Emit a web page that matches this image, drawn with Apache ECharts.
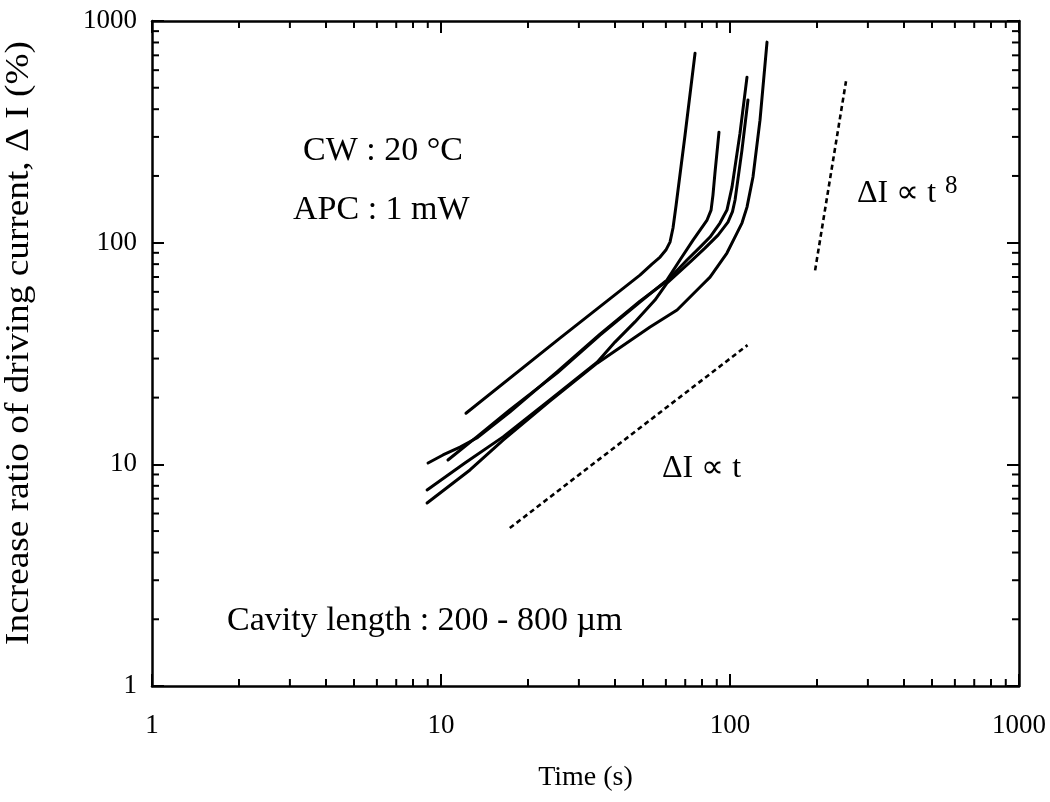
<!DOCTYPE html>
<html>
<head>
<meta charset="utf-8">
<script src="https://cdn.jsdelivr.net/npm/echarts@6/dist/echarts.min.js"></script>
<style>
html,body{margin:0;padding:0;background:#fff;}
#chart{width:1050px;height:802px;}
</style>
</head>
<body>
<div id="chart"></div>
<script>
// ---- data (time in s, increase ratio in %) ----
const xTickLabels = ['1', '10', '100', '1000'];
const yTickLabels = ['1', '10', '100', '1000'];
const minorTicks = [2, 3, 4, 5, 6, 7, 8, 9, 20, 30, 40, 50, 60, 70, 80, 90, 200, 300, 400, 500, 600, 700, 800, 900];
const xTitle = 'Time (s)';
const yTitle = 'Increase ratio of driving current, \u0394 I (%)';

const curveA = [[12.2, 17.0], [25.8, 37.1], [48.8, 71.4], [53.7, 80.1], [57.3, 86.1], [60.0, 92.6], [62.0, 100.6], [63.5, 116.4], [65.1, 147.8], [69.9, 306], [75.7, 716]];
const curveB = [[10.57, 10.46], [11.9, 11.85], [13.3, 13.3], [17.3, 17.6], [25.2, 25.8], [35.5, 38.3], [48.8, 54.0], [60.5, 67.8], [67.1, 83.5], [74.5, 102.7], [83.3, 126.5], [86.0, 140.3], [87.3, 163.9], [88.7, 206], [91.6, 315]];
const curveC = [[9.02, 10.14], [10.16, 11.02], [11.64, 11.97], [13.3, 13.14], [17.3, 17.2], [25.2, 26.1], [35.5, 38.7], [48.8, 54.5], [60.5, 67.1], [71.0, 83.5], [78.8, 95.5], [85.3, 106], [92.3, 122.6], [97.6, 140.3], [101.6, 178], [108.3, 312], [114.5, 558]];
const curveD = [[8.95, 7.66], [12.1, 10.14], [16.4, 13.3], [23.8, 19.5], [34.7, 28.9], [40.0, 35.6], [46.9, 43.9], [55.0, 55.1], [60.5, 65.7], [72.7, 81.7], [81.9, 94.5], [90.9, 108.2], [98.4, 123.9], [102.0, 138], [104.1, 155.7], [110.0, 261.6], [115.4, 440]];
const curveE = [[8.95, 6.69], [12.6, 9.43], [16.4, 12.87], [23.8, 19.3], [34.7, 28.6], [52.9, 41.6], [65.6, 49.7], [78.8, 63.1], [85.3, 69.9], [97.6, 89.8], [105.7, 110.5], [110.0, 122.6], [114.5, 144.7], [120.1, 197.7], [127.0, 357], [134.3, 803]];
const guideLinear = [[17.3, 5.16], [115, 34.5]];   // ΔI ∝ t
const guideEighth = [[197, 75], [252, 535]];       // ΔI ∝ t^8

const X_MIN = 1, X_MAX = 1000, Y_MIN = 1, Y_MAX = 1000;

const FONT = '"Liberation Serif", "Times New Roman", serif';
const chart = echarts.init(document.getElementById('chart'), null, {renderer: 'canvas'});

const axisLineStyle = {color: '#000', width: 2.5};
const tickStyle = {color: '#000', width: 2};

function solid(data) {
  return {
    type: 'line', data: data, xAxisIndex: 0, yAxisIndex: 0,
    showSymbol: false, symbol: 'none', smooth: false,
    lineStyle: {color: '#000', width: 3, join: 'round', cap: 'round'}, silent: true, z: 5
  };
}
function dotted(data) {
  return {
    type: 'line', data: data, xAxisIndex: 0, yAxisIndex: 0,
    showSymbol: false, symbol: 'none',
    lineStyle: {color: '#000', width: 2.6, type: [5, 3.5]}, silent: true, z: 5
  };
}

const MINOR_LEN = 7;
function xMinorRender(params, api) {
  const v = api.value(0);
  const b = api.coord([v, Y_MIN]);
  const t = api.coord([v, Y_MAX]);
  return {type: 'group', children: [
    {type: 'line', shape: {x1: b[0], y1: b[1], x2: b[0], y2: b[1] - MINOR_LEN}, style: {stroke: '#000', lineWidth: 2}},
    {type: 'line', shape: {x1: t[0], y1: t[1], x2: t[0], y2: t[1] + MINOR_LEN}, style: {stroke: '#000', lineWidth: 2}}
  ]};
}
function yMinorRender(params, api) {
  const v = api.value(1);
  const l = api.coord([X_MIN, v]);
  const r = api.coord([X_MAX, v]);
  return {type: 'group', children: [
    {type: 'line', shape: {x1: l[0], y1: l[1], x2: l[0] + MINOR_LEN, y2: l[1]}, style: {stroke: '#000', lineWidth: 2}},
    {type: 'line', shape: {x1: r[0], y1: r[1], x2: r[0] - MINOR_LEN, y2: r[1]}, style: {stroke: '#000', lineWidth: 2}}
  ]};
}

const option = {
  animation: false,
  backgroundColor: '#fff',
  grid: {left: 152, right: 31, top: 21, bottom: 116, containLabel: false, outerBoundsMode: 'none'},
  xAxis: [
    {
      type: 'log', logBase: 10, min: X_MIN, max: X_MAX, position: 'bottom',
      axisLine: {show: true, lineStyle: axisLineStyle},
      axisTick: {show: true, inside: true, length: 12, lineStyle: tickStyle},
      axisLabel: {show: true, margin: 26, color: '#000', fontFamily: FONT, fontSize: 27,
        formatter: (v, i) => xTickLabels[i]},
      splitLine: {show: false}, minorTick: {show: false},
      name: xTitle, nameLocation: 'middle', nameGap: 78,
      nameTextStyle: {color: '#000', fontFamily: FONT, fontSize: 28}
    },
    {
      type: 'log', logBase: 10, min: X_MIN, max: X_MAX, position: 'top',
      axisLine: {show: true, lineStyle: axisLineStyle},
      axisTick: {show: true, inside: true, length: 12, lineStyle: tickStyle},
      axisLabel: {show: false}, splitLine: {show: false}
    }
  ],
  yAxis: [
    {
      type: 'log', logBase: 10, min: Y_MIN, max: Y_MAX, position: 'left',
      axisLine: {show: true, lineStyle: axisLineStyle},
      axisTick: {show: true, inside: true, length: 12, lineStyle: tickStyle},
      axisLabel: {show: true, margin: 15, color: '#000', fontFamily: FONT, fontSize: 27,
        formatter: (v, i) => yTickLabels[i]},
      splitLine: {show: false}, minorTick: {show: false}
    },
    {
      type: 'log', logBase: 10, min: Y_MIN, max: Y_MAX, position: 'right',
      axisLine: {show: true, lineStyle: axisLineStyle},
      axisTick: {show: true, inside: true, length: 12, lineStyle: tickStyle},
      axisLabel: {show: false}, splitLine: {show: false}
    }
  ],
  series: [
    {type: 'custom', xAxisIndex: 0, yAxisIndex: 0, silent: true, clip: false,
      data: minorTicks.map(v => [v, Y_MIN]), renderItem: xMinorRender, z: 3},
    {type: 'custom', xAxisIndex: 0, yAxisIndex: 0, silent: true, clip: false,
      data: minorTicks.map(v => [X_MIN, v]), renderItem: yMinorRender, z: 3},
    solid(curveA), solid(curveB), solid(curveC), solid(curveD), solid(curveE),
    dotted(guideLinear), dotted(guideEighth)
  ],
  graphic: [
    {type: 'text', x: 19, y: 343, rotation: Math.PI / 2, scaleX: 1.13,
      style: {text: yTitle, font: '33px ' + FONT, fill: '#000', align: 'center', verticalAlign: 'middle'}},
    {type: 'text', left: 303, top: 134, style: {text: 'CW : 20 \u00B0C', font: '34px ' + FONT, fill: '#000'}},
    {type: 'text', left: 293, top: 193, style: {text: 'APC : 1 mW', font: '34px ' + FONT, fill: '#000'}},
    {type: 'text', left: 227, top: 604, style: {text: 'Cavity length : 200 - 800 \u00B5m', font: '34px ' + FONT, fill: '#000'}},
    {type: 'text', left: 662, top: 453, style: {text: '\u0394I \u221D t', font: '32px ' + FONT, fill: '#000'}},
    {type: 'text', left: 857, top: 178, style: {text: '\u0394I \u221D t', font: '32px ' + FONT, fill: '#000'}},
    {type: 'text', left: 945, top: 174, style: {text: '8', font: '25px ' + FONT, fill: '#000'}}
  ]
};
chart.setOption(option);
</script>
</body>
</html>
